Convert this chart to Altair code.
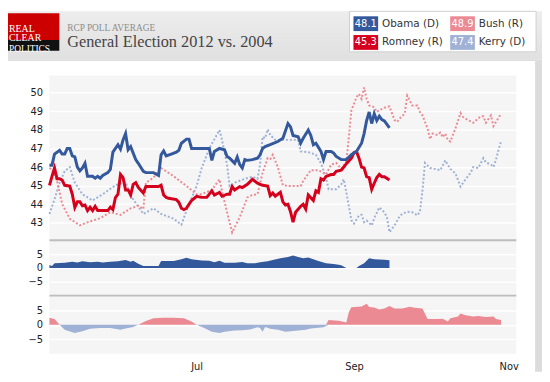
import altair as alt
import pandas as pd

# 2004 series are aligned with the same calendar day in 2012
START = pd.Timestamp("2012-05-04")

# ---- 2012: Obama (D) ----
obama_day = [0,1,2,4,5,6,7,8,9,10,11,12,13,14,15,17,18,19,20,21,23,24,25,27,28,29,30,31,32,33,
             34,35,37,38,41,43,44,45,46,48,50,51,52,54,55,56,63,64,65,67,69,70,71,73,74,75,76,77,78,80,
             82,83,84,85,87,90,92,94,95,96,98,99,100,102,103,104,105,107,108,109,111,112,113,115,117,119,121,123,124,125,
             126,127,128,129,130,131,132,134]
obama_val = [46.1,46.1,46.7,46.9,46.7,46.7,47.0,47.0,46.6,46.55,46.0,45.8,45.95,46.2,45.5,45.5,45.4,45.5,45.4,45.55,
             45.7,45.87,46.8,47.2,46.96,47.45,47.8,46.93,47.1,46.75,46.4,46.2,45.77,45.7,45.7,45.55,46.66,46.87,46.6,46.7,
             46.8,46.9,47.28,47.5,47.5,47.0,47.0,46.36,46.84,47.0,46.93,46.57,46.48,46.2,46.54,46.13,45.95,46.4,46.36,46.4,
             46.48,46.66,47.0,47.1,47.2,47.37,47.55,48.34,48.16,47.7,47.63,47.28,47.55,47.99,47.7,47.2,47.28,46.84,46.4,46.84,
             46.84,46.75,46.57,46.4,46.4,46.66,46.84,47.28,47.8,48.5,48.96,48.34,48.87,48.5,48.73,48.55,48.48,48.1]

# ---- 2012: Romney (R) ----
romney_day = [0,1,2,3,4,5,6,8,9,10,11,12,13,14,15,16,17,18,19,23,24,25,26,27,28,29,30,31,32,33,34,35,37,38,
              43,44,45,46,47,50,51,52,53,54,56,58,60,62,64,65,67,68,70,71,72,73,75,76,78,80,82,84,86,87,88,89,
              91,92,93,94,95,96,97,99,100,101,102,104,105,106,107,108,109,111,112,113,115,116,117,119,120,121,
              122,123,124,125,126,127,128,129,130,131,132,134]
romney_val = [45.02,45.5,45.95,45.37,45.37,45.3,45.02,44.98,44.54,43.83,44.13,44.13,43.92,43.96,43.66,43.84,43.66,43.89,43.66,
              43.66,43.84,43.71,44.36,44.54,45.6,45.43,44.77,44.77,44.5,45.07,45.16,44.9,44.6,44.95,
              44.95,45.02,44.5,44.37,44.32,44.25,44.1,43.79,43.71,43.79,44.2,44.43,44.37,44.37,44.72,44.5,44.64,44.43,
              44.54,44.54,44.95,44.77,44.95,44.9,45.07,45.34,45.13,45.02,44.98,44.46,44.6,44.43,
              44.64,44.13,43.96,44.0,43.6,43.04,43.57,43.89,44.0,43.74,44.5,44.2,44.72,44.64,45.37,45.3,45.5,45.6,45.6,45.77,
              45.83,46.0,46.18,46.48,46.78,46.84,46.48,46.0,45.95,45.48,45.43,44.8,45.13,45.43,45.6,45.48,45.48,45.3]

# ---- 2004: Bush (R) ----
bush_day = [0,1,3,5,8,12,16,20,24,28,32,35,37,38,41,44,49,54,58,60,64,67,68,70,72,75,78,80,82,84,
            86,87,88,90,92,94,99,100,103,106,109,111,113,115,117,118,119,121,122,123,124,125,126,128,129,130,132,134,136,137,
            138,140,141,143,145,146,147,149,150,151,153,154,155,156,157,158,160,162,163,165,167,170,171,172,174,175,176,178]
bush_val = [45.95,45.87,45.25,44.02,43.22,42.87,43.08,43.25,43.57,43.43,43.78,43.92,43.74,45.16,45.43,45.95,45.5,44.98,44.54,44.54,
            44.77,45.34,44.72,43.57,42.48,43.3,44.37,44.5,44.54,45.7,46.48,46.43,46.66,46.0,45.02,44.98,44.98,45.25,45.83,45.83,
            45.6,46.13,46.22,45.9,46.3,47.63,49.05,49.75,49.93,49.66,50.28,49.66,49.31,49.22,48.96,49.05,49.19,49.26,48.52,48.43,
            48.61,48.87,49.84,49.31,49.31,48.96,48.78,48.08,47.5,47.8,47.72,47.85,47.6,47.8,47.46,47.37,48.08,48.9,48.69,48.52,
            48.38,48.73,48.73,48.38,48.78,48.2,48.43,48.87]

# ---- 2004: Kerry (D) ----
kerry_day = [0,2,4,6,8,10,13,17,21,26,30,32,37,41,44,49,52,54,58,60,63,67,68,70,71,73,77,80,82,83,
             84,85,86,87,89,98,99,102,105,107,109,110,113,115,116,117,119,120,122,123,124,125,127,128,130,132,133,134,136,138,
             139,141,143,145,146,147,148,150,152,154,155,156,158,160,162,164,166,167,169,171,172,174,175,176,177,178]
kerry_val = [43.48,44.27,45.16,45.78,46.0,45.16,44.54,44.2,44.54,45.02,45.2,44.46,43.48,43.78,43.48,43.22,42.9,43.66,44.98,45.95,
             47.0,47.99,47.46,46.13,44.98,45.16,45.37,45.48,45.37,46.13,47.63,47.55,48.03,47.72,47.46,47.46,46.84,46.8,46.66,46.2,
             45.43,44.81,44.81,45.07,45.34,44.64,43.14,42.96,43.4,43.44,43.04,43.13,42.86,43.25,43.83,43.57,43.3,42.5,42.86,43.36,
             43.48,43.6,43.57,43.4,43.6,44.72,46.22,45.95,45.9,45.83,46.08,46.36,45.9,45.66,44.95,45.34,45.7,46.0,45.95,46.48,
             46.25,46.13,46.0,46.4,46.93,47.4]

# ---- spread 2012: Obama - Romney ----
spread12_day = [0,1,2,6,9,11,13,16,19,21,24,27,30,32,33,35,37,43,44,49,52,54,56,60,63,65,67,69,73,76,
                78,81,83,86,88,91,94,96,98,100,102,104,106,109,112,114,115,117,121,122,124,126,128,132,134]
spread12_val = [1.1,0.7,1.7,1.9,2.3,2.0,2.4,2.1,2.3,2.0,2.3,2.4,2.9,2.25,2.6,1.5,0.7,0.7,2.5,2.5,
                3.2,3.7,3.2,2.75,2.6,2.1,2.6,1.9,1.9,2.2,1.7,1.7,2.1,2.4,2.9,3.5,4.0,4.5,4.0,3.5,
                3.8,3.2,2.5,1.7,1.4,1.2,0.95,0.0,0.0,0.7,1.7,3.5,3.2,3.0,2.8]

# ---- spread 2004: Bush - Kerry ----
spread04_day = [0,2,4,6,9,10,13,16,20,24,28,30,33,35,38,41,45,49,53,56,58,61,64,67,69,73,76,79,82,83,
                84,85,87,90,93,95,98,101,103,108,109,110,114,117,118,119,123,125,126,128,130,132,134,136,139,142,144,147,149,153,
                155,157,158,161,162,164,167,169,172,175,176,178]
spread04_val = [2.4,2.0,0.0,-1.7,-2.6,-2.8,-2.2,-1.4,-1.1,-1.1,-1.7,-1.3,-0.8,0.0,1.3,2.2,2.4,2.4,2.2,1.1,
                0.0,-1.1,-2.4,-2.8,-2.4,-2.0,-1.9,-1.6,-0.9,-1.1,-2.4,-0.8,-1.4,-1.7,-2.4,-2.2,-2.0,-1.7,-1.3,-0.9,
                -0.4,1.6,1.4,0.8,4.4,6.0,6.3,7.2,6.1,5.9,5.2,5.6,6.4,5.6,5.6,6.2,5.8,5.6,2.0,2.0,
                2.1,1.1,2.2,2.8,3.9,3.3,2.8,3.0,2.7,2.8,2.0,1.6]

names = ["Obama (D)", "Romney (R)", "Bush (R)", "Kerry (D)"]
colors = ["#34589c", "#d5001c", "#ec8a94", "#9fb1d5"]
logo_lines = ["REAL", "CLEAR", "POLITICS"]
title_kicker = "RCP POLL AVERAGE"
title_text = "General Election 2012 vs. 2004"
month_ticks = [(7, "Jul"), (9, "Sep"), (11, "Nov")]


def frame(days, vals):
    return pd.DataFrame({"date": START + pd.to_timedelta(days, unit="D"), "v": vals})


W = 473
FONT = "DejaVu Sans"
xscale = alt.Scale(domain=[alt.DateTime(year=2012, month=5, date=4),
                           alt.DateTime(year=2012, month=11, date=4)])
x_noaxis = alt.X("date:T", scale=xscale, axis=None)

y_main = alt.Y("v:Q", scale=alt.Scale(domain=[42.06, 50.92], nice=False, zero=False),
               axis=alt.Axis(values=[43, 44, 45, 46, 47, 48, 49, 50], title=None, grid=True,
                             gridColor="white", gridWidth=1.5, ticks=False, tickSize=0,
                             domain=False, labelPadding=7))

one = alt.Data(values=[{"k": 0}])


def box(x1, x2, y1, y2, **kw):
    return alt.Chart(one).mark_rect(**kw).encode(
        x=alt.value(x1), x2=alt.value(x2), y=alt.value(y1), y2=alt.value(y2))


def label(x, y, txt, **kw):
    return alt.Chart(one).mark_text(text=txt, **kw).encode(x=alt.value(x), y=alt.value(y))


def series_line(days, vals, color, width, dash=None):
    kw = dict(color=color, strokeWidth=width)
    if dash:
        kw["strokeDash"] = dash
    return alt.Chart(frame(days, vals)).mark_line(**kw).encode(x=x_noaxis, y=y_main)


# ---------- header ----------
header_grad = alt.LinearGradient(gradient="linear",
                                 stops=[alt.GradientStop(color="#ededed", offset=0),
                                        alt.GradientStop(color="#e0e0e0", offset=1)],
                                 x1=0, x2=0, y1=0, y2=1)
header = [
    box(-42, 499, -65, -16, color=header_grad),
    box(492, 499, -16, 300, color="#dcdcdc"),
    box(-42, 492, -16, -15, color="#d2d2d2"),
    # logo
    box(-42, 10, -63, -36, color="#cc0000"),
    box(-42, 10, -36, -25, color="#111111"),
    label(-41, -47.5, logo_lines[0], font="Liberation Serif", fontSize=10, color="white", align="left"),
    label(-41, -37.5, logo_lines[1], font="Liberation Serif", fontSize=10, color="white", align="left"),
    label(-41, -27, logo_lines[2], font="Liberation Serif", fontSize=9.5, color="white", align="left"),
    # titles
    label(18, -48.5, title_kicker, font="Liberation Serif", fontSize=9.5, color="#8c8c8c", align="left"),
    label(18, -34, title_text, font="Liberation Serif", fontSize=16.5, color="#444444", align="left"),
    # legend box
    box(304, 493, -65, -24, color="white", stroke="#cfcfcf", strokeWidth=1),
]
last_vals = [obama_val[-1], romney_val[-1], bush_val[-1], kerry_val[-1]]
slots = [(308, -60), (308, -41), (406, -60), (406, -41)]
for (sx, sy), nm, col, lv in zip(slots, names, colors, last_vals):
    header.append(box(sx, sx + 25, sy, sy + 15, color=col))
    header.append(label(sx + 12.5, sy + 7.5, f"{lv:.1f}", font=FONT, fontSize=10, color="white",
                        align="center", baseline="middle"))
    header.append(label(sx + 29, sy + 7.5, nm, font=FONT, fontSize=10.5, color="#333333",
                        align="left", baseline="middle"))

main = alt.layer(
    *header,
    series_line(kerry_day, kerry_val, colors[3], 2, [2, 2]),
    series_line(bush_day, bush_val, colors[2], 2, [2, 2]),
    series_line(romney_day, romney_val, colors[1], 3),
    series_line(obama_day, obama_val, colors[0], 3),
).properties(width=W, height=167)


# ---------- spread panels ----------
def y_sub(field):
    return alt.Y(f"{field}:Q", scale=alt.Scale(domain=[-10, 10], nice=False),
                 axis=alt.Axis(values=[-5, 0, 5], title=None, grid=True, gridColor="white",
                               gridWidth=1.5, ticks=False, tickSize=0, domain=False, labelPadding=7))


separator = alt.Chart(one).mark_rule(color="#bdbdbd", strokeWidth=2).encode(
    x=alt.value(0), x2=alt.value(W), y=alt.value(0))

sp12 = alt.Chart(frame(spread12_day, spread12_val)).transform_calculate(
    pos="max(datum.v, 0)", neg="min(datum.v, 0)")
sub1 = alt.layer(
    sp12.mark_area(color=colors[0]).encode(x=x_noaxis, y=y_sub("pos"), y2=alt.datum(0)),
    sp12.mark_area(color=colors[1]).encode(x=x_noaxis, y=y_sub("neg"), y2=alt.datum(0)),
    separator,
).properties(width=W, height=56)

x_bottom = alt.X("date:T", scale=xscale,
                 axis=alt.Axis(values=[alt.DateTime(year=2012, month=m, date=1) for m, _ in month_ticks],
                               format="%b", title=None, labelAngle=0, ticks=False, tickSize=0,
                               domain=False, grid=False, labelPadding=8, labelFontSize=10))
sp04 = alt.Chart(frame(spread04_day, spread04_val)).transform_calculate(
    pos="max(datum.v, 0)", neg="min(datum.v, 0)")
sub2 = alt.layer(
    sp04.mark_area(color=colors[2]).encode(x=x_bottom, y=y_sub("pos"), y2=alt.datum(0)),
    sp04.mark_area(color=colors[3]).encode(x=x_bottom, y=y_sub("neg"), y2=alt.datum(0)),
    separator,
).properties(width=W, height=59)

chart = alt.vconcat(main, sub1, sub2, spacing=0, bounds="flush").properties(
    padding=0, background="white"
).configure_view(stroke=None, fill="#f5f5f5").configure_axis(
    labelFont=FONT, labelFontSize=10, labelColor="#222222"
)

chart.save("out.html", embed_options={"renderer": "svg", "actions": False})
